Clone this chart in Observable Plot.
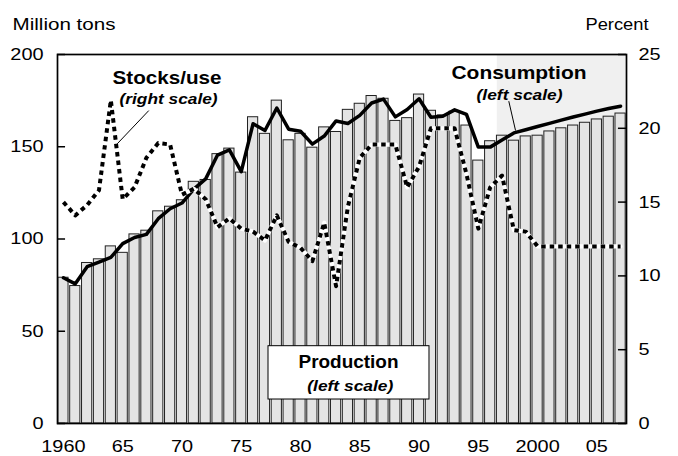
<!DOCTYPE html>
<html>
<head>
<meta charset="utf-8">
<script src="https://cdn.jsdelivr.net/npm/d3@7"></script>
<script src="https://cdn.jsdelivr.net/npm/@observablehq/plot@0.6"></script>
<style>
  html, body { margin: 0; padding: 0; background: #fff; }
  svg { display: block; }
</style>
</head>
<body>
<div id="chart"></div>
<script>
// ---- Data ----
const years = d3.range(1960, 2008);
const production = [
  79, 74.5, 87, 89, 96, 92.5, 102.5, 104.5, 115, 117.5,
  121, 131, 132, 146, 149, 136, 166, 157, 175, 153.5,
  157, 149.5, 160.5, 158, 170, 173.3, 177.5, 176, 164, 165.5,
  178.3, 169.5, 167, 169, 161.5, 142.5, 153, 156, 153.3, 155.6,
  156, 158.3, 160, 161.5, 163, 164.8, 166.3, 168
];
const consumption = [
  79, 75.7, 85, 87.5, 90, 97.5, 100.8, 102.5, 111, 116.4,
  119.5, 127, 132.6, 145.5, 148.3, 136.5, 162.5, 158.8, 171, 159.5,
  158.4, 151.4, 155.8, 164, 162.6, 167, 173.7, 175.8, 166.2, 170.2,
  176, 166, 166.5, 170, 167.5, 149.8, 149.8, 153.6, 157.5, 159.2,
  161, 162.7, 164.4, 166.1, 167.7, 169.3, 170.7, 172
];
const stocksUse = [
  15.0, 14.1, 14.8, 15.8, 21.9, 15.2, 16.0, 18.0, 19.0, 18.9,
  15.5, 15.9, 15.2, 13.3, 13.9, 13.2, 13.0, 12.4, 14.1, 12.3,
  11.9, 11.0, 13.6, 9.3, 14.7, 18.0, 18.9, 18.9, 18.9, 16.0,
  17.4, 20.0, 20.0, 20.0, 16.9, 13.2, 16.0, 16.8, 13.1, 13.0,
  12.0, 12.0, 12.0, 12.0, 12.0, 12.0, 12.0, 12.0
];
const leftTicks = [0, 50, 100, 150, 200];
const rightTicks = [0, 5, 10, 15, 20, 25];
const xTicks = [1960, 1965, 1970, 1975, 1980, 1985, 1990, 1995, 2000, 2005];
const projectionStart = 1996.6;

// Annotations (data space)
const noteText  = ["Stocks/use", "(right scale)", "Consumption", "(left scale)", "Production", "(left scale)"];
const noteYear  = [1968.74, 1968.87, 1998.43, 1998.48, 1984.05, 1984.2];
const noteValue = [184.1, 173.3, 186.8, 175.6, 30.2, 17.8];
const noteBold  = [true, false, true, false, true, false];

// ---- Derived tables ----
const ratio = 200 / 25; // right scale -> left scale
const rows = years.map((year, i) => ({year, production: production[i], consumption: consumption[i], stocks: stocksUse[i] * ratio}));
const notes = noteText.map((text, i) => ({text, year: noteYear[i], value: noteValue[i], bold: noteBold[i]}));
const titles = notes.filter(d => d.bold);
const subs = notes.filter(d => !d.bold);
const leaders = [
  {x1: 1967.2, y1: 169.6, x2: 1964.54, y2: 151.6},
  {x1: 1997.57, y1: 174.7, x2: 1998.14, y2: 158.8}
];
const box = [{x1: 1977.3, x2: 1990.88, y1: 13.0, y2: 41.9}];
const xMin = 1959.5, xMax = 2007.5;
const tickLen = 0.68;

const chart = Plot.plot({
  width: 678,
  height: 456,
  marginLeft: 57,
  marginRight: 52,
  marginTop: 54,
  marginBottom: 33,
  style: {fontFamily: "'Liberation Sans', Arial, sans-serif", fontSize: "17px", color: "#000", background: "#fff"},
  x: {type: "linear", domain: [xMin, xMax]},
  y: {domain: [0, 200]},
  marks: [
    Plot.rect([{x1: projectionStart, x2: xMax}], {x1: "x1", x2: "x2", y1: 0, y2: 200, fill: "#f0f0f0"}),
    Plot.rectY(rows, {x1: d => d.year - 0.43, x2: d => d.year + 0.43, y: "production", fill: "#e4e4e4", stroke: "#222", strokeWidth: 1}),
    Plot.line(rows, {x: "year", y: "consumption", stroke: "black", strokeWidth: 3.5}),
    Plot.line(rows, {x: "year", y: "stocks", stroke: "white", strokeWidth: 4.2}),
    Plot.line(rows, {x: "year", y: "stocks", stroke: "black", strokeWidth: 4, strokeDasharray: "4.5,4", strokeLinecap: "butt"}),
    Plot.rect(box, {x1: "x1", x2: "x2", y1: "y1", y2: "y2", fill: "white", stroke: "black", strokeWidth: 1}),
    Plot.link(leaders, {x1: "x1", y1: "y1", x2: "x2", y2: "y2", stroke: "black", strokeWidth: 1}),
    Plot.text(titles, {x: "year", y: "value", text: "text", fontWeight: "bold", fontSize: 18, lineAnchor: "bottom", textAnchor: "middle", fill: "black"}),
    Plot.text(subs, {x: "year", y: "value", text: "text", fontWeight: "bold", fontStyle: "italic", fontSize: 14.5, lineAnchor: "bottom", textAnchor: "middle", fill: "black"}),
    Plot.text(["Million tons"], {frameAnchor: "top-left", textAnchor: "start", lineAnchor: "bottom", dx: -45, dy: -25, fontSize: 16, fill: "black"}),
    Plot.text(["Percent"], {frameAnchor: "top-right", textAnchor: "start", lineAnchor: "bottom", dx: -41, dy: -25, fontSize: 16, fill: "black"}),
    Plot.axisY(leftTicks, {anchor: "left", tickSize: 0, tickPadding: 14, label: null}),
    Plot.axisY(rightTicks.map(p => p * ratio), {anchor: "right", tickSize: 0, tickPadding: 12, tickFormat: d => String(d / ratio), label: null}),
    Plot.axisX(xTicks, {anchor: "bottom", tickSize: 0, tickPadding: 16, label: null,
      tickFormat: d => (d === 1960 || d === 2000) ? String(d) : String(d).slice(2)}),
    Plot.ruleY(leftTicks, {y: d => d, x1: xMin, x2: xMin + tickLen, stroke: "black", strokeWidth: 1.5}),
    Plot.ruleY(rightTicks.map(p => p * ratio), {y: d => d, x1: xMax - tickLen, x2: xMax, stroke: "black", strokeWidth: 1.5}),
    Plot.frame({stroke: "black", strokeWidth: 1.7})
  ]
});

document.getElementById("chart").append(chart);

// Widen glyphs horizontally to match the reference's stretched lettering
const targetWidths = {"Million tons": 103, "Percent": 63, "Stocks/use": 109, "(right scale)": 98,
  "Consumption": 135, "(left scale)": 86, "Production": 100};
chart.querySelectorAll("text").forEach(t => {
  const s = t.textContent;
  const w = t.getComputedTextLength();
  if (!w) return;
  const target = targetWidths[s] !== undefined ? targetWidths[s] : w * 1.17;
  t.setAttribute("textLength", target);
  t.setAttribute("lengthAdjust", "spacingAndGlyphs");
});
</script>
</body>
</html>
